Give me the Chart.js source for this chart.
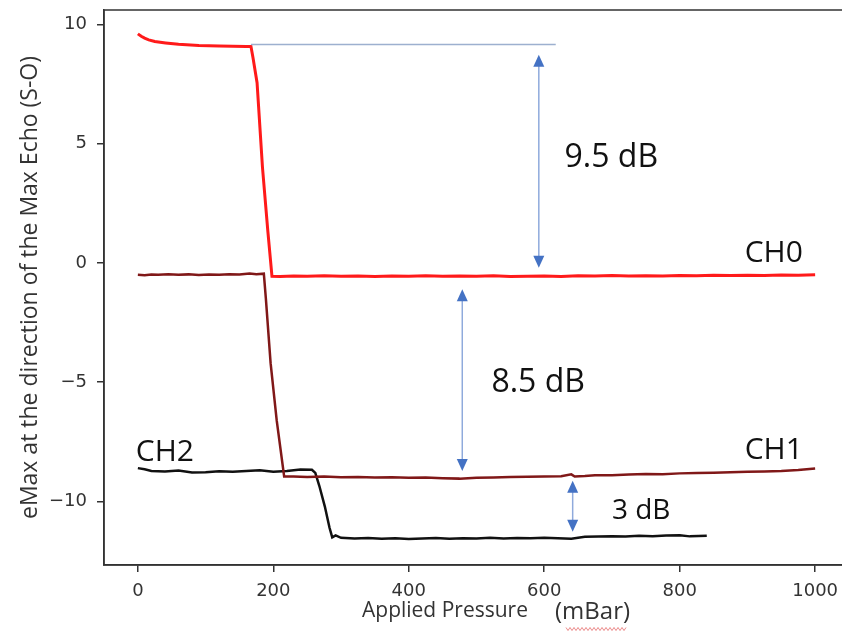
<!DOCTYPE html>
<html lang="en">
<head>
<meta charset="UTF-8">
<title>eMax vs Applied Pressure</title>
<script src="https://cdn.jsdelivr.net/npm/chart.js"></script>
<style>
  body { margin: 0; padding: 0; background: #fff; }
  .wrap { width: 842px; height: 634px; overflow: hidden; }
</style>
</head>
<body>
<div class="wrap"><canvas id="chart" width="870" height="634"></canvas></div>
<script>
  // CH0 (red)
  var ch0X = [0, 5, 10, 16, 25, 41, 60, 90, 120, 160, 167, 170, 176, 184, 192, 198, 210, 230, 250, 275, 300, 325, 350, 375, 400, 425, 450, 475, 500, 525, 550, 575, 600, 625, 650, 675, 700, 725, 750, 775, 800, 825, 850, 875, 900, 925, 950, 975, 1000];
  var ch0Y = [9.6, 9.5, 9.42, 9.35, 9.28, 9.22, 9.16, 9.11, 9.09, 9.07, 9.07, 8.6, 7.55, 4.0, 1.3, -0.56, -0.57, -0.55, -0.56, -0.54, -0.56, -0.55, -0.57, -0.55, -0.56, -0.54, -0.56, -0.55, -0.56, -0.54, -0.57, -0.56, -0.55, -0.57, -0.54, -0.55, -0.53, -0.55, -0.54, -0.55, -0.53, -0.54, -0.52, -0.53, -0.52, -0.53, -0.51, -0.52, -0.5];

  // CH1 (dark red)
  var ch1X = [0, 10, 20, 30, 45, 60, 75, 90, 105, 120, 135, 150, 165, 175, 186, 189, 196, 205, 216, 230, 250, 275, 300, 325, 350, 375, 400, 425, 450, 475, 500, 525, 550, 575, 600, 625, 640, 645, 660, 675, 700, 725, 750, 775, 800, 825, 850, 875, 900, 925, 950, 975, 1000];
  var ch1Y = [-0.5, -0.52, -0.49, -0.5, -0.47, -0.5, -0.48, -0.51, -0.49, -0.5, -0.47, -0.49, -0.44, -0.47, -0.45, -1.5, -4.2, -6.6, -8.95, -8.95, -8.97, -8.95, -8.98, -8.97, -8.99, -8.98, -9.0, -8.99, -9.02, -9.04, -9.0, -8.99, -8.97, -8.96, -8.95, -8.94, -8.86, -8.95, -8.93, -8.9, -8.9, -8.87, -8.85, -8.86, -8.82, -8.8, -8.79, -8.77, -8.75, -8.74, -8.72, -8.68, -8.62];

  // CH2 (black)
  var ch2X = [0, 10, 20, 40, 60, 80, 100, 120, 140, 160, 180, 200, 220, 240, 257, 262, 268, 276, 283, 287, 292, 300, 320, 340, 360, 380, 400, 420, 440, 460, 480, 500, 520, 540, 560, 580, 600, 620, 640, 660, 680, 700, 720, 740, 760, 780, 800, 815, 840];
  var ch2Y = [-8.6, -8.65, -8.72, -8.74, -8.7, -8.78, -8.77, -8.73, -8.75, -8.72, -8.69, -8.75, -8.72, -8.66, -8.67, -8.8, -9.35, -10.2, -11.1, -11.5, -11.42, -11.52, -11.55, -11.53, -11.56, -11.54, -11.57, -11.55, -11.53, -11.56, -11.54, -11.55, -11.52, -11.55, -11.53, -11.54, -11.52, -11.54, -11.56, -11.48, -11.47, -11.45, -11.47, -11.43, -11.45, -11.42, -11.41, -11.46, -11.43];

  var xTicks = [0, 200, 400, 600, 800, 1000];
  var yTicks = [-10, -5, 0, 5, 10];

  // annotations (data units)
  var gapLine = { x0: 167, x1: 617, y: 9.15 };
  var gapArrowX = [592, 479, 642];
  var gapArrowTop = [8.72, -1.1, -9.13];
  var gapArrowBottom = [-0.2, -8.72, -11.27];
  var noteText = ['9.5 dB', '8.5 dB', '3 dB', 'CH0', 'CH1', 'CH2'];
  var noteX = [630, 522, 700, 896, 896, -3];
  var noteY = [4.0, -5.41, -10.73, 0.03, -8.21, -8.3];
  var noteSize = [32, 32, 28, 30, 30, 30];

  function toPoints(xs, ys) {
    return xs.map(function (x, i) { return { x: x, y: ys[i] }; });
  }

  var ink = '#333';

  var annotations = {
    id: 'annotations',
    afterDatasetsDraw: function (chart) {
      var ctx = chart.ctx;
      var xs = chart.scales.x, ys = chart.scales.y;
      var area = chart.chartArea;
      ctx.save();

      // frame
      ctx.strokeStyle = ink;
      ctx.lineWidth = 1.5;
      ctx.strokeRect(area.left, area.top, area.right - area.left, area.bottom - area.top);

      // reference line
      ctx.strokeStyle = '#9db0cf';
      ctx.lineWidth = 1.5;
      ctx.beginPath();
      ctx.moveTo(xs.getPixelForValue(gapLine.x0), ys.getPixelForValue(gapLine.y));
      ctx.lineTo(xs.getPixelForValue(gapLine.x1), ys.getPixelForValue(gapLine.y));
      ctx.stroke();

      // double arrows
      for (var i = 0; i < gapArrowX.length; i++) {
        var px = xs.getPixelForValue(gapArrowX[i]);
        var top = ys.getPixelForValue(gapArrowTop[i]);
        var bot = ys.getPixelForValue(gapArrowBottom[i]);
        ctx.strokeStyle = '#8faadc';
        ctx.lineWidth = 1.5;
        ctx.beginPath();
        ctx.moveTo(px, top + 8);
        ctx.lineTo(px, bot - 8);
        ctx.stroke();
        ctx.fillStyle = '#4472c4';
        ctx.beginPath();
        ctx.moveTo(px, top); ctx.lineTo(px - 5.5, top + 12); ctx.lineTo(px + 5.5, top + 12); ctx.closePath();
        ctx.fill();
        ctx.beginPath();
        ctx.moveTo(px, bot); ctx.lineTo(px - 5.5, bot - 12); ctx.lineTo(px + 5.5, bot - 12); ctx.closePath();
        ctx.fill();
      }

      // labels
      ctx.fillStyle = '#111';
      ctx.textBaseline = 'alphabetic';
      ctx.textAlign = 'left';
      for (var j = 0; j < noteText.length; j++) {
        ctx.font = noteSize[j] + 'px "Open Sans"';
        ctx.fillText(noteText[j], xs.getPixelForValue(noteX[j]), ys.getPixelForValue(noteY[j]));
      }

      // x axis title
      ctx.fillStyle = '#333';
      ctx.font = '21px "Open Sans"';
      ctx.fillText('Applied Pressure', area.left + 258, 617);
      ctx.font = '24px "Open Sans"';
      ctx.fillText('(mBar)', area.left + 451, 619);
      // spell-check squiggle under mBar
      ctx.strokeStyle = 'rgba(220,60,60,0.6)';
      ctx.lineWidth = 1;
      ctx.beginPath();
      var sx = area.left + 462;
      for (var k = 0; k <= 30; k++) {
        var wx = sx + k * 2;
        var wy = 629 + (k % 2 ? 1.5 : -1.5);
        if (k === 0) ctx.moveTo(wx, wy); else ctx.lineTo(wx, wy);
      }
      ctx.stroke();
      ctx.restore();
    }
  };

  var chart = new Chart(document.getElementById('chart').getContext('2d'), {
    type: 'line',
    data: {
      datasets: [
        { label: 'CH0', data: toPoints(ch0X, ch0Y), borderColor: '#ff1a1a', borderWidth: 3 },
        { label: 'CH1', data: toPoints(ch1X, ch1Y), borderColor: '#801818', borderWidth: 2.5 },
        { label: 'CH2', data: toPoints(ch2X, ch2Y), borderColor: '#111111', borderWidth: 2.5 }
      ]
    },
    options: {
      responsive: false,
      animation: false,
      elements: { point: { radius: 0 }, line: { tension: 0 } },
      layout: { padding: { top: 10, right: 21, left: 0, bottom: 0 } },
      plugins: { legend: { display: false }, tooltip: { enabled: false } },
      scales: {
        x: {
          type: 'linear',
          min: -50,
          max: 1050,
          afterBuildTicks: function (s) { s.ticks = xTicks.map(function (v) { return { value: v }; }); },
          afterFit: function (s) { s.height = 69; s.paddingLeft = 0; s.paddingRight = 0; },
          grid: { drawOnChartArea: false, drawTicks: true, tickLength: 7, color: ink, lineWidth: 1.5 },
          border: { display: true, color: ink, width: 1.5 },
          ticks: {
            padding: 9,
            maxRotation: 0,
            color: '#333',
            font: { family: 'DejaVu Sans', size: 18 },
            callback: function (v) { return String(v); }
          }
        },
        y: {
          min: -12.66,
          max: 10.6,
          afterBuildTicks: function (s) { s.ticks = yTicks.map(function (v) { return { value: v }; }); },
          afterFit: function (s) { s.width = 104; s.paddingTop = 0; s.paddingBottom = 0; },
          grid: { drawOnChartArea: false, drawTicks: true, tickLength: 7, color: ink, lineWidth: 1.5 },
          border: { display: true, color: ink, width: 1.5 },
          ticks: {
            padding: 10,
            color: '#333',
            font: { family: 'DejaVu Sans', size: 18 },
            callback: function (v) { return v < 0 ? '\u2212' + Math.abs(v) : String(v); }
          },
          title: {
            display: true,
            text: 'eMax at the direction of the Max Echo (S-O)',
            color: '#333',
            font: { family: 'Open Sans', size: 23 },
            padding: { top: 17, bottom: 0 }
          }
        }
      }
    },
    plugins: [annotations]
  });
</script>
</body>
</html>
